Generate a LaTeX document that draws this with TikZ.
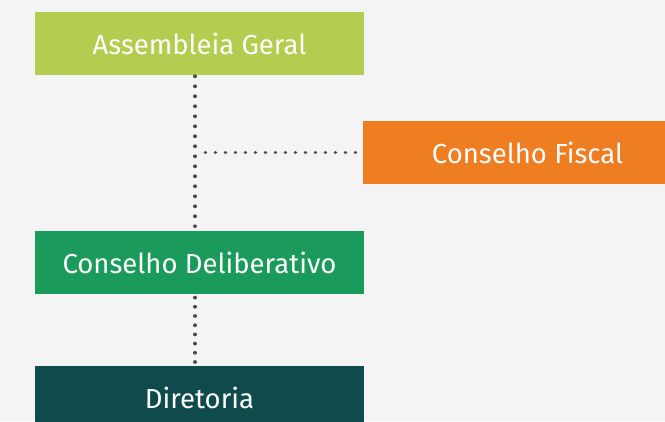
\documentclass[tikz,border=0pt]{standalone}
\usepackage{fontspec}
\setmainfont{Fira Sans}
\definecolor{bg}{HTML}{F4F4F4}
\definecolor{cag}{HTML}{B2CD4F}
\definecolor{ccf}{HTML}{EF7D22}
\definecolor{ccd}{HTML}{1A9B5C}
\definecolor{cdir}{HTML}{0F4A4D}
\definecolor{dotc}{HTML}{4A4A4A}
\begin{document}
\begin{tikzpicture}[x=1pt,y=-1pt,
  box/.style={rectangle, inner sep=0pt, text=white, font=\fontsize{27.5}{30}\selectfont},
  dotline/.style={draw=dotc, line width=3.6pt, line cap=round, dash pattern=on 0.2pt off 9.8pt}]
\fill[bg] (0,0) rectangle (665,421);
\useasboundingbox (0,0) rectangle (665,421);
\begin{scope}
\clip (0,0) rectangle (665,421);
\node[box, fill=cag, minimum width=329pt, minimum height=63pt] (ag) at (199.5,43.5) {Assembleia Geral};
\node[box, fill=ccf, minimum width=329pt, minimum height=63pt] (cf) at (527.5,152.5) {Conselho Fiscal};
\node[box, fill=ccd, minimum width=329pt, minimum height=63pt] (cd) at (199.5,262.5) {Conselho Deliberativo};
\node[box, fill=cdir, minimum width=329pt, minimum height=63pt] (dir) at (199.5,397.5) {Diretoria};
\end{scope}
\coordinate (vx) at (195,0);
\draw[dotline, shorten <=1pt, shorten >=4.6pt] (ag.south -| vx) -- (cd.north -| vx);
\draw[dotline, shorten <=7.3pt, shorten >=10.3pt] (cf.west) -- (cf.west -| vx);
\draw[dotline, dash pattern=on 0.2pt off 9pt, shorten <=3.3pt, shorten >=3.3pt] (cd.south -| vx) -- (dir.north -| vx);
\end{tikzpicture}
\end{document}
